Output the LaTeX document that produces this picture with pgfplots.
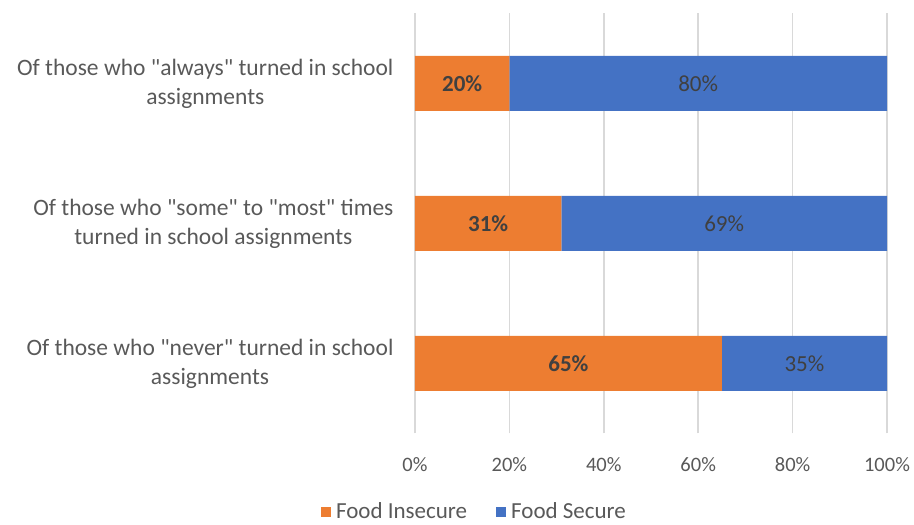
\documentclass[border=0pt]{standalone}
\usepackage{pgfplots}
\pgfplotsset{compat=1.18}
\usepackage{fontspec}
\setmainfont{Carlito}[Ligatures=TeXOff]
\definecolor{orng}{HTML}{ED7D31}
\definecolor{blu}{HTML}{4472C4}
\definecolor{txt}{HTML}{595959}
\definecolor{lbl}{HTML}{404040}
\definecolor{grd}{HTML}{D9D9D9}
\newcommand{\cfont}{\fontsize{23.5}{29}\selectfont}
\newcommand{\lfont}{\fontsize{23}{28}\selectfont}
\newcommand{\tfont}{\fontsize{20.5}{25}\selectfont}
\begin{document}
\begin{tikzpicture}
\path[use as bounding box] (0,0) rectangle (914pt,525pt);
\begin{axis}[
  at={(415pt,91.5pt)}, anchor=south west,
  scale only axis, width=472pt, height=420pt,
  xbar stacked, bar width=55pt,
  xmin=0, xmax=100, ymin=-0.5, ymax=2.5,
  axis line style={draw=none},
  major tick length=0pt,
  xtick={0,20,40,60,80,100},
  xticklabels={0\%,20\%,40\%,60\%,80\%,100\%},
  xmajorgrids, grid style={grd, line width=1.5pt},
  ytick={0,1,2},
  yticklabels={{Of those who "never" turned in school\\assignments},
               {Of those who "some" to "most" times\\turned in school assignments},
               {Of those who "always" turned in school\\assignments}},
  yticklabel style={align=center, text=txt, font=\cfont, xshift=-18pt},
  xticklabel style={text=txt, font=\tfont, yshift=-20pt},
  legend columns=2,
  legend style={at={(0.125,-0.186)}, anchor=center, draw=none, fill=none,
    font=\lfont, text=txt, inner sep=0pt,
    nodes={inner sep=1pt},
    /tikz/every odd column/.append style={column sep=4pt},
    /tikz/every even column/.append style={column sep=28pt}},
  legend image code/.code={\fill[#1] (0pt,-5pt) rectangle (10pt,5pt);},
  nodes near coords, point meta=explicit symbolic,
]
\addplot[fill=orng, draw=none,
  nodes near coords style={font=\lfont\bfseries, text=lbl}]
  coordinates {(65,0) [65\%] (31,1) [31\%] (20,2) [20\%]};
\addplot[fill=blu, draw=none,
  nodes near coords style={font=\lfont, text=lbl}]
  coordinates {(35,0) [35\%] (69,1) [69\%] (80,2) [80\%]};
\legend{Food Insecure, Food Secure}
\end{axis}
\end{tikzpicture}
\end{document}
